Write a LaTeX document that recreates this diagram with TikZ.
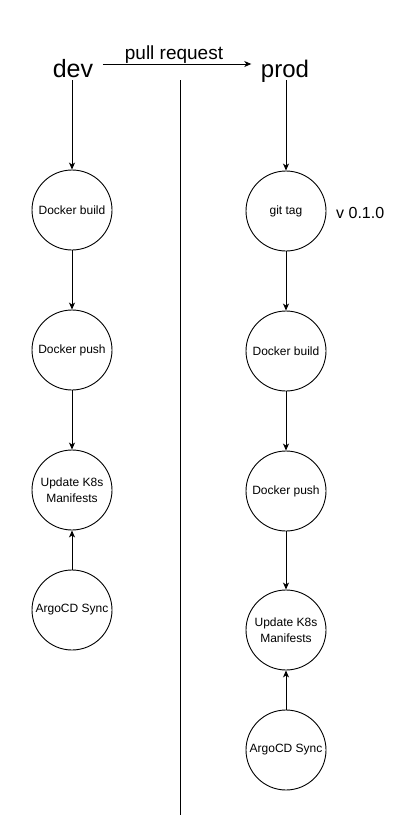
\documentclass[tikz,border=0pt]{standalone}
\usepackage{fontspec}
\setmainfont{Liberation Sans}
\usetikzlibrary{arrows.meta}
\begin{document}
\begin{tikzpicture}[x=1pt,y=-1pt,
  stage/.style={circle,draw,line width=0.9pt,minimum size=80pt,inner sep=0pt,align=center,
    font=\fontsize{12}{15}\selectfont},
  branch/.style={anchor=base,inner ysep=0pt,inner xsep=9.5pt,text depth=3pt},
  flow/.style={line width=0.9pt,-{Stealth[length=7pt,width=6pt,inset=2pt]}}]
\useasboundingbox (0,0) rectangle (410,830);
% branch labels
\node[branch,font=\fontsize{25}{30}\selectfont] (dev) at (73,77) {dev};
\node[branch,font=\fontsize{24}{29}\selectfont] (prod) at (285,77) {prod};
\node[anchor=base,inner sep=0pt,font=\fontsize{19}{23}\selectfont] (pr) at (174,59) {pull request};
\coordinate (ay) at (0,64);
\draw[flow] (dev.east |- ay) -- (prod.west |- ay);
% separator
\coordinate (sepa) at (180,80);
\coordinate (sepb) at (180,815);
\draw[line width=0.9pt] (sepa) -- (sepb);
% dev column
\node[stage] (d1) at (72,210) {Docker build};
\node[stage] (d2) at (72,350) {Docker push};
\node[stage,font=\fontsize{12}{16}\selectfont] (d3) at (72,490) {Update K8s\\Manifests};
\node[stage] (d4) at (72,610) {ArgoCD Sync};
\draw[flow] (dev.south -| d1) -- (d1);
\draw[flow] (d1) -- (d2);
\draw[flow] (d2) -- (d3);
\draw[flow] (d4) -- (d3);
% prod column
\node[stage] (p1) at (286,211) {git tag};
\node[anchor=west,inner sep=0pt,font=\fontsize{16}{19}\selectfont] (ver) at (336,213) {v 0.1.0};
\node[stage] (p2) at (286,351) {Docker build};
\node[stage] (p3) at (286,491) {Docker push};
\node[stage,font=\fontsize{12}{16}\selectfont] (p4) at (286,630) {Update K8s\\Manifests};
\node[stage] (p5) at (286,750) {ArgoCD Sync};
\draw[flow] (prod.south -| p1) -- (p1);
\draw[flow] (p1) -- (p2);
\draw[flow] (p2) -- (p3);
\draw[flow] (p3) -- (p4);
\draw[flow] (p5) -- (p4);
\end{tikzpicture}
\end{document}
